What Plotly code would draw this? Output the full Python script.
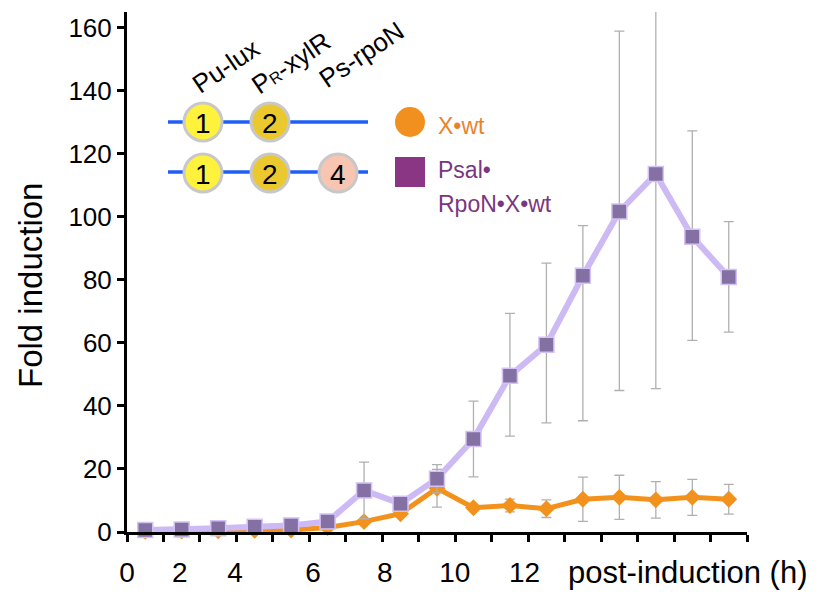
import plotly.graph_objects as go

# ---- data ----
sample = list(range(1, 18))  # 17 sampling points (category index)
xwt = [0.2, 0.3, 0.4, 0.5, 0.6, 1.4, 3.3, 5.8, 13.9, 7.7, 8.4, 7.4, 10.4, 11.0, 10.2, 11.0, 10.4]
xwt_err = [0, 0, 0, 0, 0, 0, 0, 0, 6.0, 0, 2.0, 2.8, 7.0, 7.0, 5.8, 5.7, 4.7]
psal = [0.6, 0.8, 1.2, 1.7, 2.1, 3.3, 13.2, 9.0, 16.9, 29.5, 49.6, 59.4, 81.3, 101.7, 113.6, 93.7, 80.9]
psal_err_plus = [0, 0, 0, 0, 0, 0, 9.0, 0, 4.5, 12.0, 19.8, 25.9, 15.9, 57.2, 66.0, 33.6, 17.6]
psal_err_minus = [0, 0, 0, 0, 0, 0, 9.0, 0, 4.5, 12.0, 19.2, 24.8, 46.0, 56.8, 68.1, 32.9, 17.5]
y_ticks = [0, 20, 40, 60, 80, 100, 120, 140, 160]
x_tick_labels = ["0", "2", "4", "6", "8", "10", "12"]
x_tick_label_pos = [0.0, 1.45, 2.96, 5.1, 7.07, 8.99, 10.9]

xpos = [s - 0.5 for s in sample]

FONT = "Liberation Sans, Arial, Helvetica, sans-serif"
ORANGE = "#f2921d"

fig = go.Figure()
fig.add_trace(go.Scatter(
    x=xpos, y=xwt, mode="lines+markers", xaxis="x", yaxis="y",
    line=dict(color=ORANGE, width=5),
    marker=dict(symbol="diamond", size=13, color=ORANGE),
    error_y=dict(type="data", array=xwt_err, color="#b0b0b0", thickness=1.3, width=5),
    showlegend=False, cliponaxis=False,
))
fig.add_trace(go.Scatter(
    x=xpos, y=psal, mode="lines+markers", xaxis="x2", yaxis="y",
    line=dict(color="#cdb9f3", width=6),
    marker=dict(symbol="square", size=15, color="#8470a3", line=dict(color="#d3c2f5", width=1.5)),
    error_y=dict(type="data", symmetric=False, array=psal_err_plus, arrayminus=psal_err_minus,
                 color="#b0b0b0", thickness=1.3, width=5),
    showlegend=False, cliponaxis=False,
))

W, H = 826, 595
L, R, T, B = 127, 79, 12, 63
PW, PH = W - L - R, H - T - B

def px(x):
    return (x - L) / PW

def py(y):
    return (H - B - y) / PH

shapes = []
annotations = []

# diagram: blue lines
for yy in (122, 172):
    shapes.append(dict(type="line", xref="paper", yref="paper", x0=px(168), x1=px(368),
                       y0=py(yy), y1=py(yy), line=dict(color="#1f5ef5", width=3.5), layer="above"))

circles = [(203, 122, "#fff23c", "1"), (270, 122, "#ebc92e", "2"),
           (203, 173, "#fff23c", "1"), (270, 173, "#ebc92e", "2"), (338, 173, "#f8c5b3", "4")]
for cx, cy, col, lab in circles:
    shapes.append(dict(type="circle", xref="paper", yref="paper", xsizemode="pixel", ysizemode="pixel",
                       xanchor=px(cx), yanchor=py(cy), x0=-19, x1=19, y0=-19, y1=19,
                       fillcolor=col, line=dict(color="#c8c8c8", width=3), layer="above"))
    annotations.append(dict(xref="paper", yref="paper", x=px(cx), y=py(cy + 1), text=lab, showarrow=False,
                            font=dict(family=FONT, size=28, color="black"), xanchor="center", yanchor="middle"))

for cx, cy, txt in [(226, 66, "Pu-lux"),
                    (291, 63, "P<span style='font-size:16px'>R</span>-xylR"),
                    (361, 55, "Ps-rpoN")]:
    annotations.append(dict(xref="paper", yref="paper", x=px(cx), y=py(cy), text=txt, showarrow=False,
                            textangle=-34, font=dict(family=FONT, size=26, color="black"),
                            xanchor="center", yanchor="middle"))

# legend symbols and text
shapes.append(dict(type="circle", xref="paper", yref="paper", xsizemode="pixel", ysizemode="pixel",
                   xanchor=px(410), yanchor=py(122), x0=-15, x1=15, y0=-15, y1=15,
                   fillcolor="#f1901f", line=dict(width=0), layer="above"))
shapes.append(dict(type="rect", xref="paper", yref="paper", xsizemode="pixel", ysizemode="pixel",
                   xanchor=px(410), yanchor=py(172), x0=-15, x1=15, y0=-15, y1=15,
                   fillcolor="#8b3585", line=dict(width=0), layer="above"))
for ty, txt, col in [(126, "X•wt", "#e8832c"), (170, "Psal•", "#7a3680"), (204, "RpoN•X•wt", "#7a3680")]:
    annotations.append(dict(xref="paper", yref="paper", x=px(436), y=py(ty), text=txt, showarrow=False,
                            font=dict(family=FONT, size=23, color=col), xanchor="left", yanchor="middle"))

# axis titles
annotations.append(dict(xref="paper", yref="paper", x=px(30), y=py(286), text="Fold induction",
                        showarrow=False, textangle=-90, font=dict(family=FONT, size=33, color="black"),
                        xanchor="center", yanchor="middle"))
annotations.append(dict(xref="paper", yref="paper", x=px(688), y=py(572), text="post-induction (h)",
                        showarrow=False, font=dict(family=FONT, size=31, color="black"),
                        xanchor="center", yanchor="middle"))

fig.update_layout(
    width=W, height=H,
    margin=dict(l=L, r=R, t=T, b=B, autoexpand=False),
    paper_bgcolor="white", plot_bgcolor="white",
    font=dict(family=FONT, color="black"),
    xaxis=dict(range=[0, 17], tickvals=list(range(0, 18)), showticklabels=False, automargin=False,
               ticks="outside", ticklen=7, tickwidth=2.5, tickcolor="black",
               showline=True, linewidth=3, linecolor="black", showgrid=False, zeroline=False),
    xaxis2=dict(range=[0, 17], overlaying="x", anchor="y", side="bottom", automargin=False,
                tickvals=x_tick_label_pos, ticktext=x_tick_labels,
                ticks="outside", ticklen=15, tickcolor="rgba(0,0,0,0)",
                tickfont=dict(family=FONT, size=28, color="black"),
                showline=False, showgrid=False, zeroline=False),
    yaxis=dict(range=[0, 165], tickvals=y_ticks, ticks="outside", ticklen=7, tickwidth=2.5,
               tickcolor="black", tickfont=dict(family=FONT, size=26, color="black"), automargin=False,
               showline=True, linewidth=3, linecolor="black", showgrid=False, zeroline=False),
    shapes=shapes, annotations=annotations,
)

fig.write_html("out.html")
